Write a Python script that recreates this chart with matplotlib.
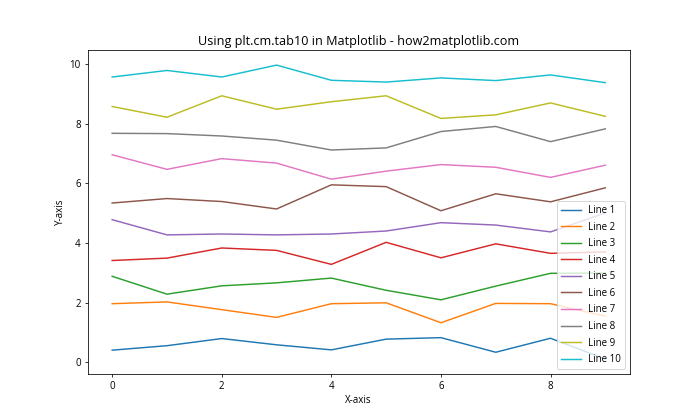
import numpy as np
import matplotlib.pyplot as plt

plt.rcParams['font.family'] = ['Open Sans', 'DejaVu Sans']

x = np.arange(10)

line1 = [0.40, 0.55, 0.79, 0.58, 0.41, 0.77, 0.82, 0.33, 0.80, 0.10]
line2 = [1.96, 2.02, 1.76, 1.50, 1.96, 1.99, 1.32, 1.97, 1.96, 1.54]
line3 = [2.88, 2.28, 2.56, 2.66, 2.82, 2.41, 2.09, 2.55, 2.98, 2.99]
line4 = [3.41, 3.49, 3.83, 3.75, 3.28, 4.02, 3.50, 3.97, 3.65, 3.70]
line5 = [4.78, 4.27, 4.30, 4.27, 4.30, 4.40, 4.68, 4.60, 4.37, 5.01]
line6 = [5.34, 5.49, 5.39, 5.14, 5.95, 5.89, 5.08, 5.65, 5.38, 5.85]
line7 = [6.96, 6.47, 6.83, 6.68, 6.14, 6.41, 6.63, 6.54, 6.20, 6.61]
line8 = [7.68, 7.67, 7.59, 7.45, 7.12, 7.19, 7.74, 7.91, 7.40, 7.83]
line9 = [8.58, 8.22, 8.94, 8.49, 8.74, 8.94, 8.18, 8.30, 8.70, 8.25]
line10 = [9.57, 9.79, 9.57, 9.97, 9.46, 9.40, 9.54, 9.45, 9.64, 9.38]

lines = [line1, line2, line3, line4, line5, line6, line7, line8, line9, line10]

plt.figure(figsize=(10, 6), dpi=70)
colors = plt.cm.tab10(np.linspace(0, 1, 10))
for i, y in enumerate(lines):
    plt.plot(x, y, color=colors[i], label=f'Line {i+1}')

plt.title('Using plt.cm.tab10 in Matplotlib - how2matplotlib.com', fontsize=13)
plt.xlabel('X-axis'); plt.ylabel('Y-axis')
plt.legend(loc='lower right', labelspacing=0.57)
plt.savefig('out.png')
